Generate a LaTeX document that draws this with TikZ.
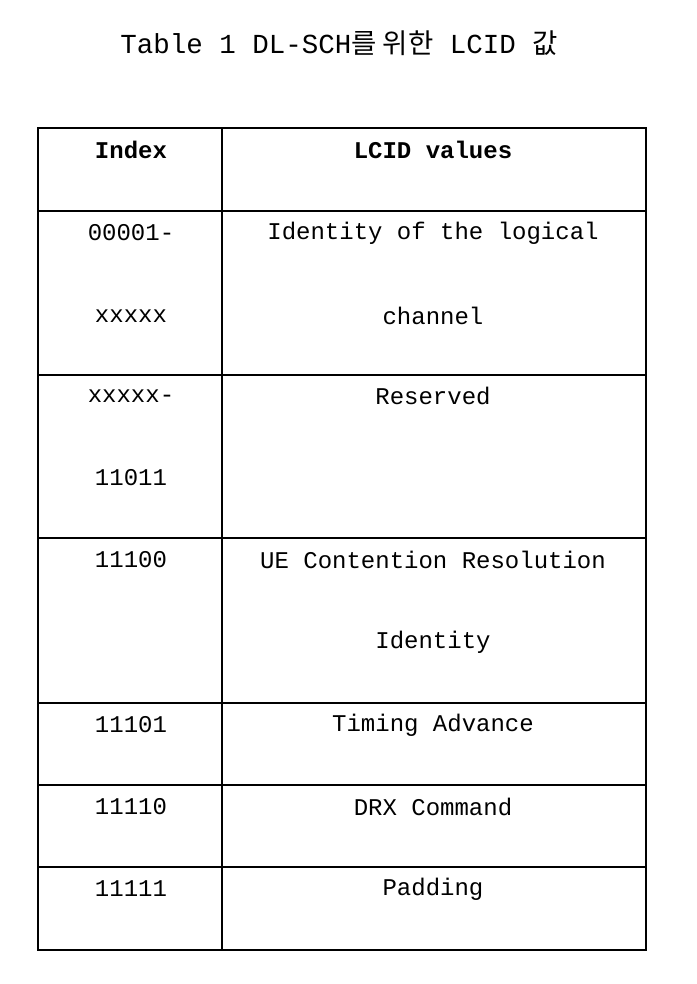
\documentclass[tikz,border=0pt]{standalone}
\usepackage{fontspec}
\setmainfont{Liberation Mono}
\newfontfamily\kr{Noto Sans CJK KR}
\begin{document}
\begin{tikzpicture}[x=1pt,y=-1pt,
  cell/.style={inner sep=0pt,font=\fontsize{24}{24}\selectfont,anchor=center},
  grid/.style={line width=1.3pt}]
\useasboundingbox (0,0) rectangle (696,984);
\node[cell,font=\fontsize{27.5}{28}\selectfont] (title) at (339,43) {Table 1 DL-SCH{\kr 를 위한} LCID {\kr 값}};
\draw[grid] (38,128) rectangle (646,950);
\draw[grid] (222,128) -- (222,950);
\foreach \y in {211,375,538,703,785,867} \draw[grid] (38,\y) -- (646,\y);
\node[cell] (h1) at (131,150) {\bfseries Index};
\node[cell] (h2) at (433,150) {\bfseries LCID values};
\node[cell] (a1) at (131,233) {00001-};
\node[cell] (a2) at (131,316) {xxxxx};
\node[cell] (b1) at (433,233) {Identity of the logical};
\node[cell] (b2) at (433,316) {channel};
\node[cell] (c1) at (131,396) {xxxxx-};
\node[cell] (c2) at (131,478) {11011};
\node[cell] (d1) at (433,396) {Reserved};
\node[cell] (e1) at (131,560) {11100};
\node[cell] (f1) at (433,560) {UE Contention Resolution};
\node[cell] (f2) at (433,642) {Identity};
\node[cell] (g1) at (131,725) {11101};
\node[cell] (h3) at (433,725) {Timing Advance};
\node[cell] (i1) at (131,807) {11110};
\node[cell] (j1) at (433,807) {DRX Command};
\node[cell] (k1) at (131,889) {11111};
\node[cell] (l1) at (433,889) {Padding};
\end{tikzpicture}
\end{document}
